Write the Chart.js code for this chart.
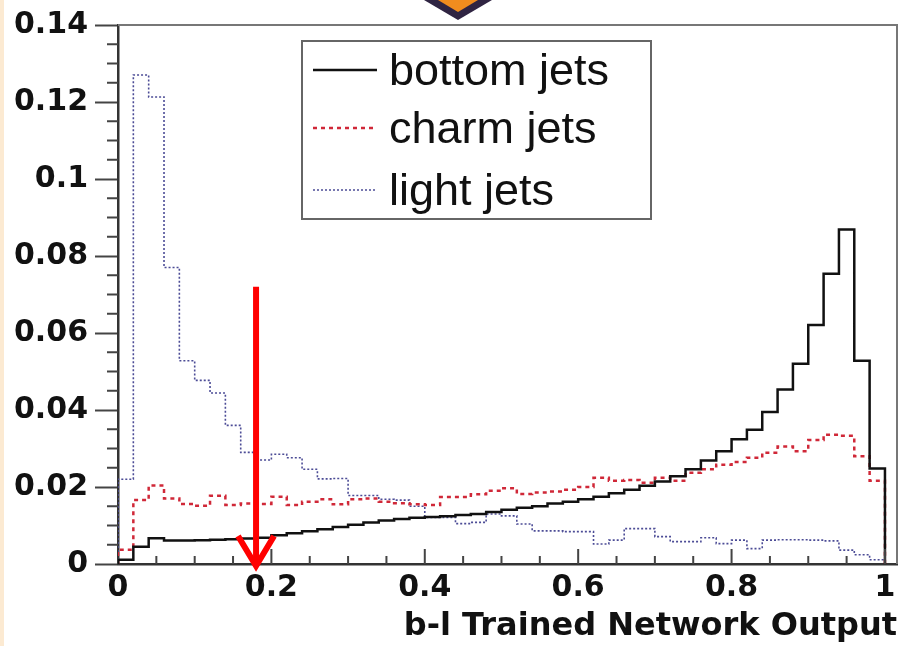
<!DOCTYPE html>
<html>
<head>
<meta charset="utf-8">
<script src="https://cdn.jsdelivr.net/npm/chart.js@4.4.1/dist/chart.umd.min.js"></script>
<style>
  body { margin: 0; background: #fff; }
  canvas { display: block; }
</style>
</head>
<body>
<canvas id="nnChart" width="904" height="646"></canvas>
<script>
// network output histograms: 50 bins of width 0.02 starting at 0
const binStart = 0;
const binWidth = 0.02;

const bottomJets = [
  0.0011, 0.0045, 0.0067, 0.0061, 0.0061, 0.0062, 0.0063, 0.0064, 0.0066, 0.0068,
  0.0075, 0.0080, 0.0085, 0.0090, 0.0096, 0.0102, 0.0108, 0.0113, 0.0117, 0.0120,
  0.0122, 0.0124, 0.0127, 0.0130, 0.0135, 0.0141, 0.0146, 0.0150, 0.0157, 0.0162,
  0.0168, 0.0175, 0.0184, 0.0193, 0.0203, 0.0214, 0.0228, 0.0246, 0.0269, 0.0293,
  0.0324, 0.0349, 0.0395, 0.0453, 0.0520, 0.0621, 0.0754, 0.0869, 0.0528, 0.0248
];
const charmJets = [
  0.0037, 0.0166, 0.0204, 0.0170, 0.0156, 0.0151, 0.0177, 0.0153, 0.0157, 0.0156,
  0.0175, 0.0153, 0.0162, 0.0168, 0.0155, 0.0168, 0.0170, 0.0162, 0.0158, 0.0155,
  0.0153, 0.0174, 0.0174, 0.0181, 0.0190, 0.0197, 0.0182, 0.0186, 0.0188, 0.0193,
  0.0200, 0.0224, 0.0216, 0.0218, 0.0211, 0.0224, 0.0216, 0.0237, 0.0246, 0.0258,
  0.0265, 0.0276, 0.0289, 0.0305, 0.0293, 0.0322, 0.0336, 0.0333, 0.0280, 0.0216
];
const lightJets = [
  0.0220, 0.1270, 0.1213, 0.0770, 0.0528, 0.0477, 0.0444, 0.0360, 0.0290, 0.0270,
  0.0285, 0.0276, 0.0246, 0.0221, 0.0222, 0.0178, 0.0178, 0.0168, 0.0166, 0.0150,
  0.0121, 0.0121, 0.0105, 0.0108, 0.0130, 0.0125, 0.0104, 0.0086, 0.0086, 0.0084,
  0.0084, 0.0052, 0.0062, 0.0092, 0.0092, 0.0071, 0.0058, 0.0058, 0.0068, 0.0053,
  0.0062, 0.0040, 0.0062, 0.0063, 0.0063, 0.0062, 0.0060, 0.0036, 0.0024, 0.0011
];

const seriesLabels = ['bottom jets', 'charm jets', 'light jets'];
const xTickLabels = ['0', '0.2', '0.4', '0.6', '0.8', '1'];
const yTickLabels = ['0', '0.02', '0.04', '0.06', '0.08', '0.1', '0.12', '0.14'];

// cut marker (red arrow)
const cutValue = 0.18;
const cutTop = 0.072;

// turn bin contents into step points (left edge of every bin, closed to zero)
function toSteps(values) {
  const pts = [{ x: binStart, y: 0 }];
  values.forEach((v, i) => pts.push({ x: binStart + i * binWidth, y: v }));
  pts.push({ x: binStart + values.length * binWidth, y: 0 });
  return pts;
}

const tickFont = { family: 'DejaVu Sans', weight: 'bold', size: 30 };

// frame, minor ticks, legend box, arrow and slide decorations
const rootStyle = {
  id: 'rootStyle',
  beforeDraw(chart) {
    const { ctx } = chart;
    ctx.save();
    ctx.fillStyle = '#fff';
    ctx.fillRect(0, 0, chart.width, chart.height);
    ctx.fillStyle = '#fcead2';
    ctx.fillRect(0, 0, 4, chart.height);
    ctx.restore();
  },
  afterDraw(chart) {
    const { ctx, chartArea: a, scales: { x, y } } = chart;
    ctx.save();

    // top and right frame
    ctx.strokeStyle = '#777';
    ctx.lineWidth = 2;
    ctx.beginPath();
    ctx.moveTo(a.left, a.top);
    ctx.lineTo(a.right, a.top);
    ctx.lineTo(a.right, a.bottom);
    ctx.stroke();

    // minor y ticks outside, x ticks inside
    ctx.strokeStyle = '#444';
    ctx.beginPath();
    for (let i = 0; i <= 28; i++) {
      if (i % 4 === 0) continue;
      const py = y.getPixelForValue(i * 0.005);
      ctx.moveTo(a.left - 11, py);
      ctx.lineTo(a.left, py);
    }
    for (let i = 1; i <= 20; i++) {
      const px = x.getPixelForValue(i * 0.05);
      const len = i % 4 === 0 ? 15 : 8;
      ctx.moveTo(px, a.bottom);
      ctx.lineTo(px, a.bottom - len);
    }
    ctx.stroke();

    // legend
    const box = { left: 302, top: 41, right: 651, bottom: 219 };
    ctx.fillStyle = '#fff';
    ctx.fillRect(box.left, box.top, box.right - box.left, box.bottom - box.top);
    ctx.strokeStyle = '#666';
    ctx.lineWidth = 2;
    ctx.strokeRect(box.left, box.top, box.right - box.left, box.bottom - box.top);
    const rows = [70, 128, 190];
    ctx.font = '45px "Liberation Sans", Arial, sans-serif';
    ctx.textBaseline = 'alphabetic';
    chart.data.datasets.forEach((ds, i) => {
      ctx.strokeStyle = ds.borderColor;
      ctx.lineWidth = ds.borderWidth;
      ctx.setLineDash(ds.borderDash || []);
      ctx.beginPath();
      ctx.moveTo(313, rows[i]);
      ctx.lineTo(377, rows[i]);
      ctx.stroke();
      ctx.setLineDash([]);
      ctx.fillStyle = '#111';
      ctx.fillText(ds.label, 389, rows[i] + 15);
    });

    // red arrow at the cut
    const ax = x.getPixelForValue(cutValue);
    const ay0 = y.getPixelForValue(cutTop);
    const ay1 = y.getPixelForValue(0) + 2;
    ctx.strokeStyle = '#ff0000';
    ctx.lineWidth = 6;
    ctx.lineCap = 'butt';
    ctx.beginPath();
    ctx.moveTo(ax, ay0);
    ctx.lineTo(ax, ay1);
    ctx.stroke();
    ctx.lineJoin = 'miter';
    ctx.beginPath();
    ctx.moveTo(ax - 18, ay1 - 30);
    ctx.lineTo(ax, ay1);
    ctx.lineTo(ax + 18, ay1 - 30);
    ctx.stroke();

    // slide ornament at the top edge
    ctx.fillStyle = '#2f2442';
    ctx.beginPath();
    ctx.moveTo(424, 0);
    ctx.lineTo(458, 20);
    ctx.lineTo(492, 0);
    ctx.closePath();
    ctx.fill();
    ctx.fillStyle = '#f08c1e';
    ctx.beginPath();
    ctx.moveTo(438, 0);
    ctx.lineTo(458, 12);
    ctx.lineTo(478, 0);
    ctx.closePath();
    ctx.fill();

    ctx.restore();
  }
};

const ctx = document.getElementById('nnChart').getContext('2d');

const nnChart = new Chart(ctx, {
  type: 'line',
  data: {
    datasets: [
      {
        label: seriesLabels[0],
        data: toSteps(bottomJets),
        borderColor: '#111',
        borderWidth: 2.5
      },
      {
        label: seriesLabels[1],
        data: toSteps(charmJets),
        borderColor: '#d02838',
        borderWidth: 2.5,
        borderDash: [4, 4]
      },
      {
        label: seriesLabels[2],
        data: toSteps(lightJets),
        borderColor: '#4c4c96',
        borderWidth: 1.6,
        borderDash: [2, 2]
      }
    ]
  },
  options: {
    responsive: false,
    animation: false,
    layout: { padding: { top: 22, right: 7, left: 0, bottom: 0 } },
    elements: {
      point: { radius: 0 },
      line: { stepped: true, tension: 0, fill: false }
    },
    plugins: {
      legend: { display: false },
      tooltip: { enabled: false }
    },
    scales: {
      x: {
        type: 'linear',
        min: 0,
        max: 1.0157,
        afterFit: s => { s.height = 82; },
        grid: { display: false, drawTicks: false },
        border: { display: true, color: '#333', width: 2.5 },
        ticks: {
          stepSize: 0.2,
          includeBounds: false,
          padding: 6,
          color: '#111',
          font: tickFont,
          maxRotation: 0,
          callback: v => xTickLabels[Math.round(v / 0.2)]
        },
        title: {
          display: true,
          text: 'b-l Trained Network Output',
          align: 'end',
          color: '#111',
          font: { family: 'DejaVu Sans', weight: 'bold', size: 32 },
          padding: { top: 0, bottom: 0 }
        }
      },
      y: {
        min: 0,
        max: 0.14,
        afterFit: s => { s.width = 118; },
        grid: {
          display: true,
          drawOnChartArea: false,
          drawTicks: true,
          tickLength: 23,
          tickColor: '#444',
          tickWidth: 2
        },
        border: { display: true, color: '#333', width: 2.5 },
        ticks: {
          stepSize: 0.02,
          padding: 7,
          color: '#111',
          font: tickFont,
          callback: v => yTickLabels[Math.round(v / 0.02)]
        }
      }
    }
  },
  plugins: [rootStyle]
});
</script>
</body>
</html>
